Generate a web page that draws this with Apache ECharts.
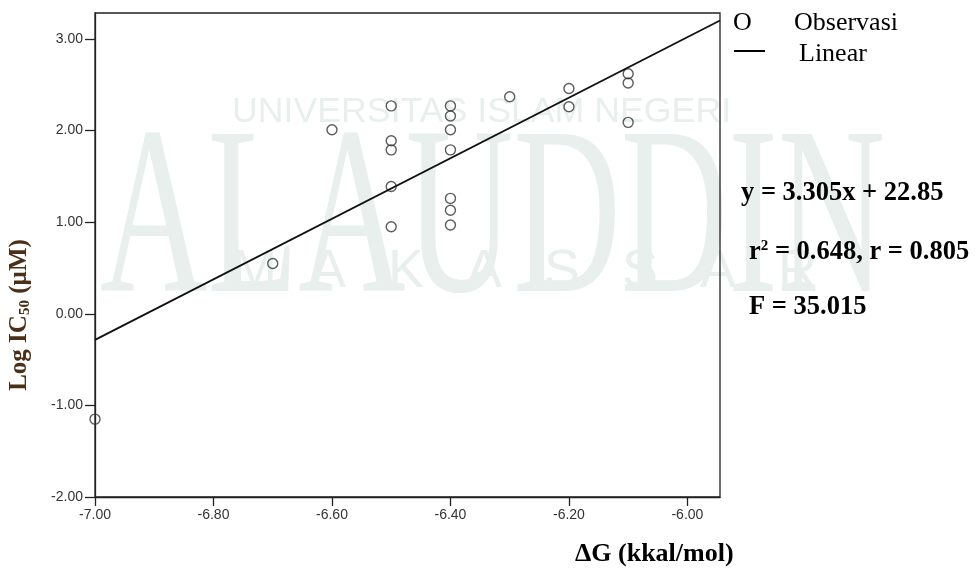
<!DOCTYPE html>
<html>
<head>
<meta charset="utf-8">
<script src="https://cdn.jsdelivr.net/npm/echarts@6/dist/echarts.min.js"></script>
<style>html,body{margin:0;padding:0;background:#fff}#c{width:975px;height:571px}</style>
</head>
<body>
<div id="c"></div>
<script>
// Observed data: ΔG (kkal/mol) vs Log IC50 (µM)
const dG = [-7.0, -6.7, -6.6, -6.5, -6.5, -6.5, -6.5, -6.5, -6.4, -6.4, -6.4, -6.4, -6.4, -6.4, -6.4, -6.3, -6.2, -6.2, -6.1, -6.1, -6.1];
const logIC50 = [-1.15, 0.55, 2.01, 2.27, 1.89, 1.79, 1.39, 0.95, 2.27, 2.16, 2.01, 1.79, 1.26, 1.13, 0.97, 2.37, 2.46, 2.26, 2.62, 2.52, 2.09];
// Linear fit
const slope = 3.305;
const intercept = 22.85;
const xRange = [-7.0, -5.945];
const yRange = [-2.0, 3.284];
const xTicks = [-7.0, -6.8, -6.6, -6.4, -6.2, -6.0];
const yTicks = [-2.0, -1.0, 0.0, 1.0, 2.0, 3.0];
const eqLines = ['y = 3.305x + 22.85', 'F = 35.015'];
const wmLetters = ['M', 'A', 'K', 'A', 'S', 'S', 'A', 'R'];

const points = dG.map((x, i) => [x, logIC50[i]]);
const fitLine = xRange.map(x => [x, slope * x + intercept]);

const chart = echarts.init(document.getElementById('c'), null, {renderer: 'canvas'});
const sans = 'Liberation Sans';
const serif = 'Liberation Serif';
const wm = '#e8efec';
const nameCol = '#4a3018';

const wmMak = wmLetters.map((ch, i) => ({
  type: 'text', z: -10, x: 232 + i * 78, y: 245, style: {text: ch, fill: wm, font: '54px "Liberation Sans"'}
}));

chart.setOption({
  animation: false,
  backgroundColor: '#fff',
  grid: {left: 95, top: 13, width: 625, height: 484, show: true, borderColor: '#222', borderWidth: 1.3, backgroundColor: 'transparent', z: 3},
  xAxis: {
    type: 'value', min: xRange[0], max: xRange[1],
    axisLine: {show: true, onZero: false, lineStyle: {color: '#222', width: 1.3}},
    axisTick: {show: true, length: 9, lineStyle: {color: '#222', width: 1.3}, customValues: xTicks},
    axisLabel: {customValues: xTicks, formatter: v => v.toFixed(2), color: '#333', fontFamily: sans, fontSize: 14, margin: 11},
    splitLine: {show: false}
  },
  yAxis: {
    type: 'value', min: yRange[0], max: yRange[1],
    axisLine: {show: true, onZero: false, lineStyle: {color: '#222', width: 1.3}},
    axisTick: {show: true, length: 10, lineStyle: {color: '#222', width: 1.3}, customValues: yTicks},
    axisLabel: {customValues: yTicks, formatter: v => v.toFixed(2), color: '#333', fontFamily: sans, fontSize: 14, margin: 12},
    splitLine: {show: false}
  },
  graphic: [
    {type: 'text', z: -10, left: 232, top: 94, style: {text: 'UNIVERSITAS ISLAM NEGERI', fill: wm, font: '35.7px "Liberation Sans"'}},
    {type: 'text', z: -10, x: 100, y: 108, scaleX: 0.62, style: {text: 'ALAUDDIN', fill: wm, font: '240px "Liberation Serif"'}},
    ...wmMak,
    {type: 'text', x: 20, y: 315, rotation: Math.PI / 2, style: {
      text: '{a|Log IC}{s|50}{a| (µM)}', align: 'center', verticalAlign: 'middle',
      rich: {a: {font: 'bold 25px "Liberation Serif"', fill: nameCol}, s: {font: 'bold 15px "Liberation Serif"', fill: nameCol, verticalAlign: 'bottom', padding: [8, 0, 0, 0]}}
    }},
    {type: 'text', left: 733, top: 10, style: {text: 'O', fill: '#000', font: '26px "Liberation Serif"'}},
    {type: 'text', left: 794, top: 10, style: {text: 'Observasi', fill: '#000', font: '26px "Liberation Serif"'}},
    {type: 'line', shape: {x1: 734, y1: 51, x2: 765, y2: 51}, style: {stroke: '#000', lineWidth: 2}},
    {type: 'text', left: 799, top: 41, style: {text: 'Linear', fill: '#000', font: '26px "Liberation Serif"'}},
    {type: 'text', left: 741, top: 180, style: {text: eqLines[0], fill: '#000', font: 'bold 26.5px "Liberation Serif"'}},
    {type: 'text', left: 749, top: 239, style: {
      text: '{b|r}{s|2}{b| = 0.648, r = 0.805}', fill: '#000',
      rich: {b: {font: 'bold 26.5px "Liberation Serif"', fill: '#000'}, s: {font: 'bold 15px "Liberation Serif"', fill: '#000', verticalAlign: 'top', padding: [0, 0, 10, 0]}}
    }},
    {type: 'text', left: 749, top: 294, style: {text: eqLines[1], fill: '#000', font: 'bold 26.5px "Liberation Serif"'}},
    {type: 'text', left: 575, top: 541, style: {text: 'ΔG (kkal/mol)', fill: '#000', font: 'bold 26px "Liberation Serif"'}}
  ],
  series: [
    {
      type: 'scatter', data: points, symbol: 'circle', symbolSize: 10, z: 4,
      itemStyle: {color: 'rgba(255,255,255,0)', borderColor: '#333', borderWidth: 1.4}
    },
    {
      type: 'line', data: fitLine, symbol: 'none', z: 5,
      lineStyle: {color: '#111', width: 1.8}
    }
  ]
});
</script>
</body>
</html>
